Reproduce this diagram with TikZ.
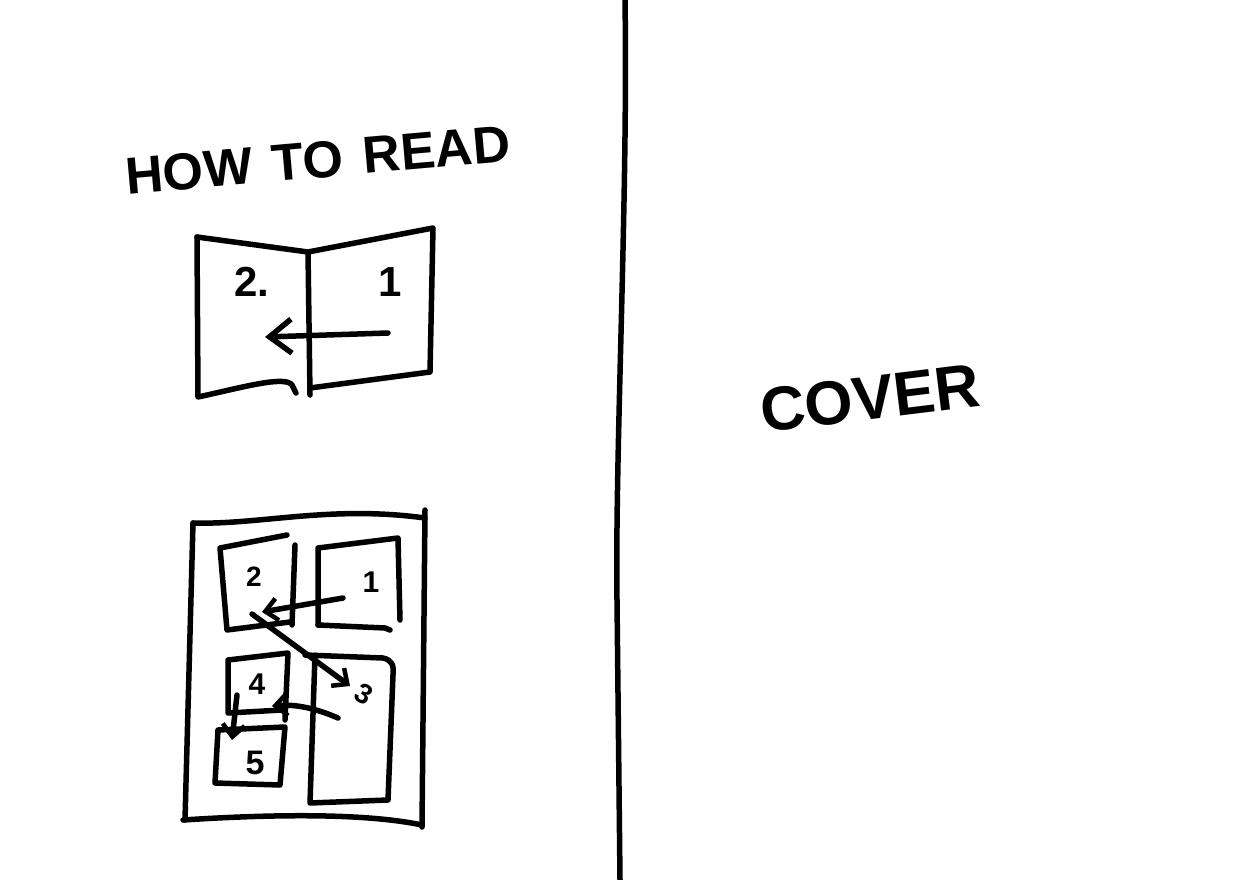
\documentclass[tikz,border=0pt]{standalone}
\usepackage{fontspec}
\setmainfont{Liberation Sans}
\usetikzlibrary{arrows.meta}
\begin{document}
\begin{tikzpicture}[x=1pt,y=-1pt,
  ink/.style={line width=5.5pt,line cap=round,line join=round,draw=black},
  bigtip/.style={-{Straight Barb[length=22pt,width=34pt,line width=5.5pt]}},
  smalltip/.style={-{Straight Barb[length=12pt,width=22pt,line width=4.5pt]}},
  hand/.style={font=\bfseries\fontsize{#1}{#1}\selectfont,inner sep=0pt}]
\useasboundingbox (0,0) rectangle (1248,880);
\fill[white] (0,0) rectangle (1248,880);
% divider
\draw[ink] (625,0) .. controls (628,200) and (615,450) .. (617,600) -- (620,880);
% title
\node[hand=52,rotate=5] (title) at (318,160) {HOW\hspace{20pt}TO\hspace{20pt}READ};
% top book
\draw[ink] (197,237) -- (308,252) -- (433,228) -- (430,372) -- (310,388);
\draw[ink] (308,252) -- (310,395);
\draw[ink] (197,237) -- (198,397) .. controls (240,388) and (285,375) .. (292,385) -- (296,393);
\node[hand=42] (p2) at (252,282) {2.};
\node[hand=42] (p1) at (390,282) {1};
\coordinate (a1s) at (388,333);
\coordinate (a1e) at (265,337);
\draw[ink,bigtip] (a1s) -- (a1e);
% bottom page
\draw[ink] (193,523) .. controls (260,525) and (330,505) .. (425,518);
\draw[ink] (425,510) -- (422,827);
\draw[ink] (183,820) .. controls (260,815) and (360,812) .. (422,825);
\draw[ink] (193,523) -- (185,820);
% panel 2
\draw[ink] (287,535) -- (220,548) -- (227,630) -- (290,622);
\draw[ink] (295,545) -- (292,625);
% panel 1
\draw[ink] (318,625) -- (318,548) -- (398,538) -- (400,620);
\draw[ink] (318,625) -- (385,628) -- (390,630);
% panel 4
\draw[ink] (282,710) -- (228,713) -- (228,660) -- (288,653) -- (285,720);
% panel 3
\draw[ink] (305,655) -- (383,658) .. controls (392,660) and (394,665) .. (393,675) -- (388,800) -- (310,803) -- (315,655);
% panel 5
\draw[ink] (218,730) -- (285,727) -- (280,785) -- (215,783) -- cycle;
% labels
\node[hand=28] (q2) at (254,577) {2};
\node[hand=30] (q1) at (371,582) {1};
\node[hand=30] (q4) at (257,684) {4};
\node[hand=28,rotate=-30] (q3) at (364,694) {3};
\node[hand=34] (q5) at (255,763) {5};
% arrows
\coordinate (b1s) at (343,598);
\coordinate (b1e) at (262,612);
\draw[ink,smalltip] (b1s) -- (b1e);
\coordinate (b2s) at (252,614);
\coordinate (b2e) at (350,686);
\draw[ink,smalltip] (b2s) -- (b2e);
\coordinate (b3s) at (338,718);
\coordinate (b3e) at (272,706);
\draw[ink,smalltip] (b3s) .. controls (315,708) and (295,704) .. (b3e);
\coordinate (b4s) at (237,695);
\coordinate (b4e) at (232,740);
\draw[ink,smalltip] (b4s) -- (b4e);
% cover
\node[hand=62,rotate=7] (cover) at (870,398) {COVER};
\end{tikzpicture}
\end{document}
